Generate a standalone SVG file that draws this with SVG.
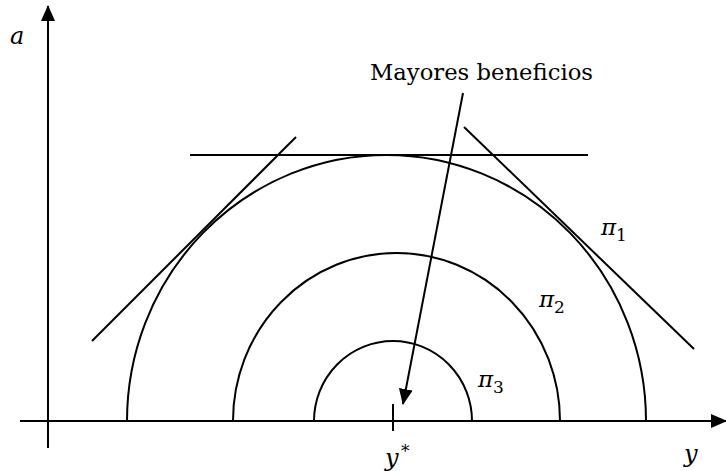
<svg xmlns="http://www.w3.org/2000/svg" width="726" height="471" viewBox="0 0 726 471">
<defs>
<marker id="ah2" markerWidth="16" markerHeight="14" refX="15" refY="7" orient="auto" markerUnits="userSpaceOnUse" viewBox="0 0 16 14">
<path d="M0,0 L16,7 L0,14 Z" fill="#000"/>
</marker>
</defs>
<style>
.ln{stroke:#000;stroke-width:2;fill:none}
.t{font-family:'DejaVu Serif',serif;fill:#000}
.i{font-style:italic}
</style>
<rect width="726" height="471" fill="#fff"/>
<g id="axes">
<line class="ln" x1="48" y1="448" x2="48" y2="6" marker-end="url(#ah2)"/>
<line class="ln" x1="20" y1="421" x2="726" y2="421" marker-end="url(#ah2)"/>
<line class="ln" x1="393" y1="404" x2="393" y2="431"/>
<text class="t i" x="10" y="44" font-size="24">a</text>
<text class="t i" x="684" y="462" font-size="24">y</text>
<text class="t i" x="385" y="466" font-size="24">y</text>
<text class="t" x="401" y="457" font-size="17">*</text>
</g>
<g id="pi1">
<path class="ln" d="M127,421 A259.5,266 0 0 1 646,421"/>
<text class="t i" x="601" y="235" font-size="23">π</text>
<text class="t" x="616" y="241" font-size="17">1</text>
</g>
<g id="pi2">
<path class="ln" d="M233,421 A163.5,168 0 0 1 560,421"/>
<text class="t i" x="539" y="307" font-size="23">π</text>
<text class="t" x="554" y="313" font-size="17">2</text>
</g>
<g id="pi3">
<path class="ln" d="M314,421 A79,80 0 0 1 472,421"/>
<text class="t i" x="478" y="387" font-size="23">π</text>
<text class="t" x="493" y="393" font-size="17">3</text>
</g>
<g id="tangents">
<line class="ln" x1="190" y1="155" x2="588" y2="155"/>
<line class="ln" x1="92" y1="341" x2="296" y2="137"/>
<line class="ln" x1="464" y1="127" x2="694" y2="349"/>
</g>
<g id="label">
<text class="t" x="370" y="80" font-size="23" textLength="223" lengthAdjust="spacingAndGlyphs">Mayores beneficios</text>
</g>
<g id="connectors">
<line class="ln" x1="463" y1="93" x2="403" y2="404" marker-end="url(#ah2)"/>
</g>
</svg>
